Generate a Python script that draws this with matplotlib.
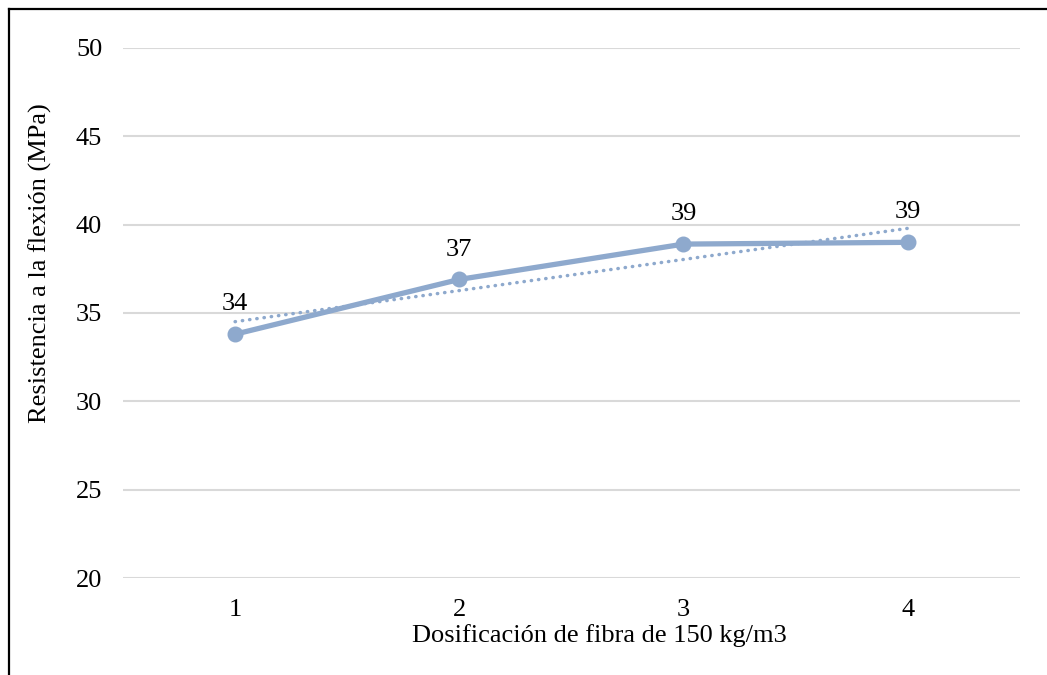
import numpy as np
import matplotlib.pyplot as plt
from matplotlib.lines import Line2D

# datos
dosis = [1, 2, 3, 4]
resistencia = [33.8, 36.9, 38.9, 39.0]
y_ticks = [20, 25, 30, 35, 40, 45, 50]

color = '#8EA9CD'
fs = 19
plt.rcParams['font.family'] = ['Liberation Serif', 'DejaVu Serif']

fig = plt.figure(figsize=(10.47, 6.75), dpi=100)
ax = fig.add_axes([0.1175, 0.1437, 0.8565, 0.7852])

# línea de tendencia lineal
m, b = np.polyfit(dosis, resistencia, 1)
xs = np.array([dosis[0], dosis[-1]])
ax.plot(xs, m * xs + b, color=color, lw=2.5, ls=(0, (0.1, 2.0)),
        dash_capstyle='round', zorder=2)

ax.plot(dosis, resistencia, color=color, lw=3.8, marker='o', ms=10.5,
        solid_capstyle='round', zorder=3)

for x, y in zip(dosis, resistencia):
    ax.annotate(f'{y:.0f}', (x, y), xytext=(0, 21.5), textcoords='offset points',
                ha='center', va='center', fontsize=fs)

ax.set_xlim(0.5, 4.5)
ax.set_ylim(20, 50)
ax.set_yticks(y_ticks)
ax.set_xticks(dosis)
ax.grid(axis='y', color='#D9D9D9', lw=1.5)
ax.set_axisbelow(True)
for s in ax.spines.values():
    s.set_visible(False)
ax.tick_params(length=0, labelsize=fs, colors='black')
ax.tick_params(axis='y', pad=15)
ax.tick_params(axis='x', pad=15)

fig.text(599 / 1047, 1 - 636 / 675, 'Dosificación de fibra de 150 kg/m3',
         ha='center', va='center', fontsize=fs)
fig.text(40 / 1047, 1 - 263 / 675, 'Resistencia a la flexión (MPa)',
         ha='center', va='center', rotation=90, fontsize=fs)

# marco
fig.add_artist(Line2D([8.5 / 1047, 8.5 / 1047], [0, 1 - 9 / 675], color='black', lw=1.6))
fig.add_artist(Line2D([8.5 / 1047, 1], [1 - 9 / 675, 1 - 9 / 675], color='black', lw=1.6))

fig.savefig('out.png', dpi=100)
